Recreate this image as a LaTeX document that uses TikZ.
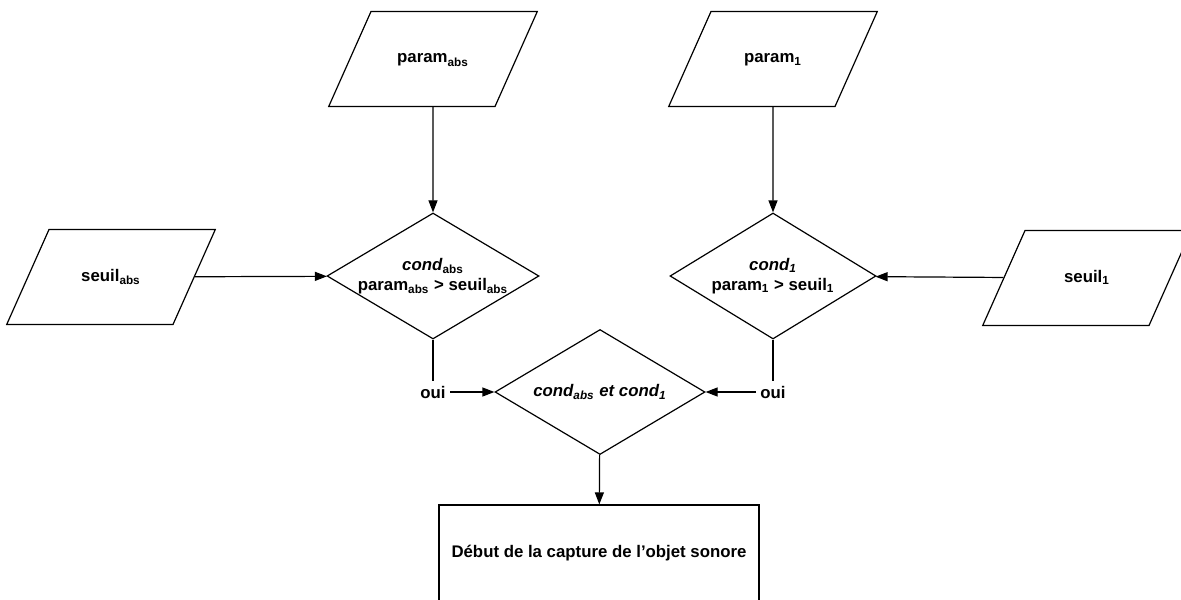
\documentclass[tikz,border=0pt]{standalone}
\usepackage{fontspec}
\setmainfont{Liberation Sans}
\usetikzlibrary{shapes.geometric,arrows.meta}

\tikzset{
    base/.style={draw, line width=0.6pt, font=\fontsize{8.4}{10}\selectfont\bfseries, align=center},
    donnee/.style={base, trapezium, trapezium left angle=66, trapezium right angle=114,
        text width=62pt, text height=6pt, text depth=2pt, inner xsep=0pt, inner ysep=19.75pt},
    test/.style={base, diamond, inner sep=-2pt, minimum height=63pt},
    action/.style={base, rectangle, minimum width=160pt, minimum height=48pt},
    etiq/.style={font=\fontsize{8.4}{10}\selectfont\bfseries, inner sep=2pt},
    fleche/.style={line width=0.6pt, -{Triangle[length=6pt,width=4.5pt]}},
    trait/.style={line width=0.6pt}
}

\begin{document}
\begin{tikzpicture}[x=0.5pt, y=-0.5pt]
    \useasboundingbox (0,0) rectangle (1181,599);

    \node[donnee] (pabs) at (433,59) {param\textsubscript{abs}};
    \node[donnee] (pun) at (773,59) {param\textsubscript{1}};
    \node[donnee] (sabs) at (111,277) {seuil\textsubscript{abs}};
    \node[donnee] (sun) at (1087,278) {seuil\textsubscript{1}};

    \node[test, aspect=1.68, minimum width=106pt] (cabs) at (433,276)
        {\textit{cond}\textsubscript{abs}\\param\textsubscript{abs} > seuil\textsubscript{abs}};
    \node[test, aspect=1.63, minimum width=103pt] (cun) at (773,276)
        {\textit{cond\textsubscript{1}}\\param\textsubscript{1} > seuil\textsubscript{1}};
    \node[test, aspect=1.68, minimum width=105pt, minimum height=62.5pt] (cet) at (600,392)
        {\textit{cond\textsubscript{abs} et cond\textsubscript{1}}};

    \node[etiq] (ouiA) at (433,392) {oui};
    \node[etiq] (ouiB) at (773,392) {oui};

    \node[action] (debut) at (599,553) {Début de la capture de l'objet sonore};

    \draw[fleche] (pabs) -- (cabs);
    \draw[fleche] (pun) -- (cun);
    \draw[fleche] (sabs) -- (cabs);
    \draw[fleche] (sun) -- (cun);
    \draw[trait] (cabs) -- (ouiA);
    \draw[trait] (cun) -- (ouiB);
    \draw[fleche] (ouiA) -- (cet);
    \draw[fleche] (ouiB) -- (cet);
    \draw[fleche] (cet) -- (debut);
\end{tikzpicture}
\end{document}
